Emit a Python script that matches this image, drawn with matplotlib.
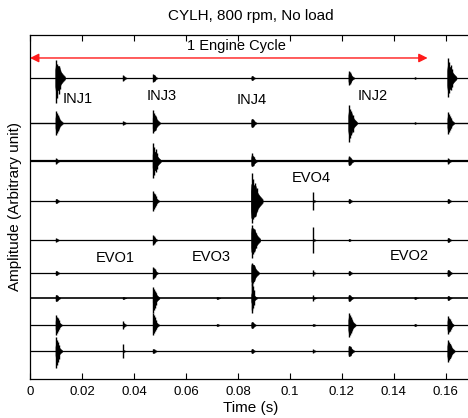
import numpy as np
import matplotlib.pyplot as plt

plt.rcParams['font.family'] = ['Liberation Sans', 'DejaVu Sans']

# event times (s) where bursts show up on the traces
event_times = [0.0100, 0.0358, 0.0474, 0.0720, 0.0853, 0.1090, 0.1227, 0.1480, 0.1608]

# vertical offset of each trace (top to bottom)
trace_offsets = [30.1, 25.6, 21.8, 17.8, 13.9, 10.6, 8.1, 5.4, 2.8]
trace_widths = [0.9, 1.0, 1.6, 0.9, 0.9, 0.9, 1.2, 0.9, 0.9]

# burst body half-height per trace / event
body = [
    [13, 2, 3, 0, 2, 0, 5, 0.6, 12],
    [8, 1.5, 8, 0, 4, 0, 11, 0.6, 7],
    [2, 0, 10, 0, 5, 0, 4, 0, 2],
    [2, 0, 6, 0, 17, 1, 2, 0, 2],
    [1.5, 0, 3, 0, 12, 1, 1, 0, 2],
    [2, 0, 4, 0, 9, 1, 2, 0, 3],
    [3, 1, 7, 1, 5, 1, 3, 1, 2],
    [6, 2, 6, 1, 3, 1, 8, 1, 6],
    [7, 1, 2, 0, 2, 1, 5, 0, 8],
]
# peak spike above / below the baseline
spike_up = [
    [18, 3, 4, 0, 2, 0, 7, 1, 20],
    [12, 2, 13, 0, 4, 0, 18, 1, 11],
    [3, 0, 18, 0, 8, 0, 5, 0, 3],
    [2, 0, 10, 0, 28, 9, 2, 0, 2],
    [2, 0, 5, 0, 15, 13, 1, 0, 2],
    [2, 0, 6, 0, 10, 3, 2, 0, 3],
    [3, 1, 11, 1, 18, 3, 3, 1, 2],
    [10, 4, 12, 1, 3, 1, 12, 1, 9],
    [14, 7, 2, 0, 2, 2, 5, 0, 11],
]
spike_down = [
    [25, 3, 4, 0, 2, 0, 7, 1, 19],
    [12, 2, 10, 0, 4, 0, 19, 1, 11],
    [3, 0, 17, 0, 5, 0, 4, 0, 3],
    [2, 0, 10, 0, 22, 9, 2, 0, 2],
    [2, 0, 5, 0, 18, 13, 1, 0, 2],
    [2, 0, 6, 0, 12, 3, 2, 0, 3],
    [3, 1, 15, 1, 15, 3, 3, 1, 2],
    [10, 4, 10, 1, 3, 1, 12, 1, 9],
    [17, 7, 2, 0, 2, 2, 5, 0, 11],
]

# shape of a burst envelope (fraction of burst length -> relative amplitude)
env_pos = [0.0, 0.05, 0.4, 0.55, 0.75, 1.0]
env_amp = [0.6, 1.0, 0.9, 0.5, 0.3, 0.1]
# secondary spikes inside a burst (fraction of burst length -> fraction of peak)
sub_pos = [0.0, 0.12, 0.28, 0.42]
sub_amp = [1.0, 0.8, 0.65, 0.45]

inj_labels = ['INJ1', 'INJ3', 'INJ4', 'INJ2']
inj_pos = [(0.0127, 28.0), (0.0450, 28.3), (0.0796, 27.9), (0.1262, 28.3)]
evo_labels = ['EVO4', 'EVO1', 'EVO3', 'EVO2']
evo_pos = [(0.1008, 20.1), (0.0254, 12.1), (0.0623, 12.2), (0.1385, 12.3)]

cycle_start, cycle_end = 0.0, 0.153

fig = plt.figure(figsize=(4.68, 4.18), dpi=100)
ax = fig.add_axes([0.0641, 0.0933, 0.944, 0.823])

scale = 0.1
for k, off in enumerate(trace_offsets):
    ax.plot([0, 0.17], [off, off], color='black', lw=trace_widths[k], zorder=2)
    for j, t in enumerate(event_times):
        b = body[k][j]
        length = 0.0012 + 0.0002 * b
        if b > 0:
            xs = t + (np.array(env_pos) - 0.08) * length
            amp = np.array(env_amp) * b * scale
            ax.fill_between(xs, off - amp, off + amp, color='black', lw=0.3, zorder=3)
        up, dn = spike_up[k][j], spike_down[k][j]
        if up > 0 or dn > 0:
            n = 1 if b <= 2 else len(sub_pos)
            for p, a in zip(sub_pos[:n], sub_amp[:n]):
                ax.vlines(t + p * length, off - dn * a * scale, off + up * a * scale,
                          color='black', lw=1.0, zorder=3)

ax.annotate('', xy=(cycle_end, 32.1), xytext=(cycle_start, 32.1),
            arrowprops=dict(arrowstyle='<|-|>', color='#ff1a1a', lw=1.0,
                            mutation_scale=13, shrinkA=0, shrinkB=0))
ax.text((cycle_start + cycle_end) / 2 + 0.003, 33.3, '1 Engine Cycle', fontsize=10.5,
        ha='center', va='center')

for lab, (x, y) in zip(inj_labels + evo_labels, inj_pos + evo_pos):
    ax.text(x, y, lab, fontsize=10.5, ha='left', va='center')

ax.set_xlim(0, 0.17)
ax.set_ylim(0, 34.4)
ax.set_xticks([0, 0.02, 0.04, 0.06, 0.08, 0.1, 0.12, 0.14, 0.16])
ax.set_xticklabels(['0', '0.02', '0.04', '0.06', '0.08', '0.1', '0.12', '0.14', '0.16'])
ax.set_yticks([])
ax.tick_params(axis='x', direction='in', top=True, length=4, width=0.8,
               labelsize=9.5, pad=5)
for s in ax.spines.values():
    s.set_linewidth(0.9)
ax.set_xlabel('Time (s)', fontsize=11, labelpad=2)
ax.set_ylabel('Amplitude (Arbitrary unit)', fontsize=11, labelpad=6)
ax.set_title('CYLH, 800 rpm, No load', fontsize=11, pad=11)

fig.savefig('out.png', dpi=100)
